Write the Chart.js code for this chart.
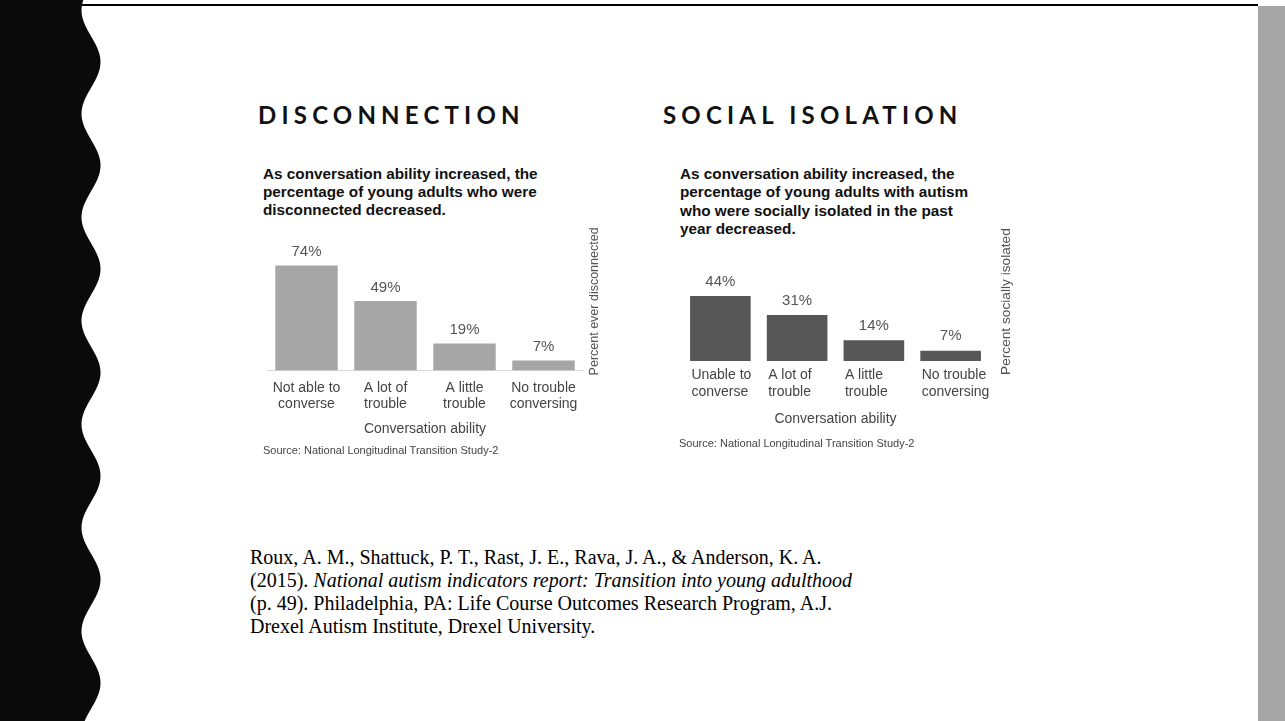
<!DOCTYPE html>
<html>
<head>
<meta charset="utf-8">
<script src="https://cdn.jsdelivr.net/npm/chart.js@4/dist/chart.umd.min.js"></script>
<style>
  html, body { margin: 0; padding: 0; background: #fff; }
  body { width: 1285px; height: 721px; position: relative; overflow: hidden; font-family: "Liberation Sans", Arial, sans-serif; }
  .abs { position: absolute; }
  .heading { font-family: Lato, sans-serif; font-weight: 700; font-size: 24px; letter-spacing: 5.2px; color: #111; line-height: 1; white-space: nowrap; }
  .lead { font-weight: bold; font-size: 15.3px; line-height: 18px; color: #111; white-space: nowrap; }
  .source { font-size: 11px; color: #444; line-height: 1; white-space: nowrap; }
  .cite { font-family: "Liberation Serif", "Times New Roman", serif; font-size: 20px; line-height: 23px; color: #000; white-space: nowrap; }
  #topRule { left: 82px; top: 4px; width: 1176px; height: 2px; background: #000; }
  #sideBar { left: 1258px; top: 6px; width: 27px; height: 715px; background: #a5a5a5; }
</style>
</head>
<body>
<svg class="abs" style="left:0;top:0" width="110" height="721"><path id="edge" fill="#0a0a0a"/></svg>
<div id="topRule" class="abs"></div>
<div id="sideBar" class="abs"></div>

<div class="abs heading" style="left:258px; top:102.5px">DISCONNECTION</div>
<div class="abs lead" style="left:263px; top:165px">As conversation ability increased, the<br>percentage of young adults who were<br>disconnected decreased.</div>
<canvas id="discChart" class="abs" style="left:255px; top:215px" width="360" height="230"></canvas>
<div class="abs source" style="left:263px; top:445px">Source: National Longitudinal Transition Study-2</div>

<div class="abs heading" style="left:663px; top:102.5px">SOCIAL ISOLATION</div>
<div class="abs lead" style="left:680px; top:165px; line-height:18.3px">As conversation ability increased, the<br>percentage of young adults with autism<br>who were socially isolated in the past<br>year decreased.</div>
<canvas id="isoChart" class="abs" style="left:670px; top:215px" width="360" height="225"></canvas>
<div class="abs source" style="left:679px; top:438px">Source: National Longitudinal Transition Study-2</div>

<div class="abs cite" style="left:250px; top:546px">Roux, A. M., Shattuck, P. T., Rast, J. E., Rava, J. A., &amp; Anderson, K. A.<br>(2015). <i>National autism indicators report: Transition into young adulthood</i><br>(p. 49). Philadelphia, PA: Life Course Outcomes Research Program, A.J.<br>Drexel Autism Institute, Drexel University.</div>

<script>
// data
const abilityDisc = [['Not able to', 'converse'], ['A lot of', 'trouble'], ['A little', 'trouble'], ['No trouble', 'conversing']];
const pctDisc = [74, 49, 19, 7];
const abilityIso = [['Unable to', 'converse'], ['A lot of', 'trouble'], ['A little', 'trouble'], ['No trouble', 'conversing']];
const pctIso = [44, 31, 14, 7];
const xTitle = 'Conversation ability';

// scalloped black edge down the left side
let d = 'M0 0';
for (let y = 0; y <= 722; y += 2) {
  const x = 91 + 9.5 * Math.cos(2 * Math.PI * (y - 62) / 103.5);
  d += ' L' + x.toFixed(1) + ' ' + y;
}
document.getElementById('edge').setAttribute('d', d + ' L0 722 Z');

const FONT = '"Liberation Sans", Arial, sans-serif';

// "74%" style labels above each bar
const barValues = {
  id: 'barValues',
  afterDatasetsDraw(chart, args, opts) {
    const ctx = chart.ctx;
    const ds = chart.data.datasets[0];
    ctx.save();
    ctx.font = '15px ' + FONT;
    ctx.fillStyle = '#555';
    ctx.textAlign = 'center';
    ctx.textBaseline = 'bottom';
    chart.getDatasetMeta(0).data.forEach((bar, i) => {
      ctx.fillText(ds.data[i] + '%', bar.x, bar.y - opts.gap);
    });
    ctx.restore();
  }
};

// rotated axis caption on the right, reading upward
const sideTitle = {
  id: 'sideTitle',
  afterDraw(chart, args, opts) {
    const {ctx, chartArea} = chart;
    ctx.save();
    ctx.translate(chartArea.right + opts.gap, chartArea.bottom + opts.drop);
    ctx.rotate(-Math.PI / 2);
    ctx.font = opts.size + 'px ' + FONT;
    ctx.fillStyle = '#555';
    ctx.textAlign = 'left';
    ctx.textBaseline = 'middle';
    ctx.fillText(opts.text, 0, 0);
    ctx.restore();
  }
};

function makeChart(id, labels, values, o) {
  return new Chart(document.getElementById(id), {
    type: 'bar',
    data: {
      labels: labels,
      datasets: [{ data: values, backgroundColor: o.color, barPercentage: 0.79, categoryPercentage: 1 }]
    },
    options: {
      responsive: false,
      animation: false,
      layout: { padding: o.padding },
      plugins: {
        legend: { display: false },
        tooltip: { enabled: false },
        barValues: { gap: o.valueGap },
        sideTitle: { text: o.yTitle, size: o.yTitleSize, gap: o.yGap, drop: o.yDrop }
      },
      scales: {
        x: {
          afterFit(scale) { scale.height = o.axisHeight; },
          grid: { display: false, drawTicks: false },
          border: { display: o.baseline, color: '#d9d9d9', width: 1 },
          ticks: {
            color: '#444', font: { family: FONT, size: 14 }, padding: o.tickPad,
            maxRotation: 0, autoSkip: false, align: o.tickAlign, labelOffset: o.labelOffset
          },
          title: { display: true, text: xTitle, color: '#444', font: { family: FONT, size: 14 }, padding: 0 }
        },
        y: { display: false, min: 0, max: o.max }
      }
    },
    plugins: [barValues, sideTitle]
  });
}

makeChart('discChart', abilityDisc, pctDisc, {
  color: '#a6a6a6', max: 80, baseline: true,
  padding: { left: 12, right: 32, top: 42, bottom: 7.6 },
  axisHeight: 67, tickPad: 9, tickAlign: 'center', labelOffset: 0,
  valueGap: 6, yTitle: 'Percent ever disconnected', yTitleSize: 12.5, yGap: 12, yDrop: 5
});

makeChart('isoChart', abilityIso, pctIso, {
  color: '#575757', max: 50, baseline: false,
  padding: { left: 12, right: 41, top: 72, bottom: 12.6 },
  axisHeight: 66.4, tickPad: 6, tickAlign: 'start', labelOffset: -29,
  valueGap: 7, yTitle: 'Percent socially isolated', yTitleSize: 13.7, yGap: 17, yDrop: 14
});
</script>
</body>
</html>
